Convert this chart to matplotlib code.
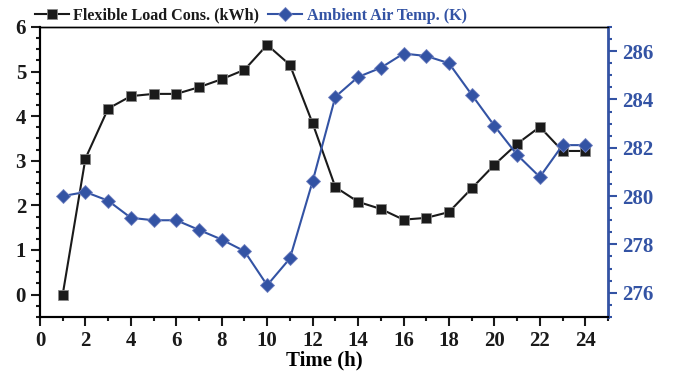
import numpy as np
import matplotlib
matplotlib.use("Agg")
import matplotlib.pyplot as plt
from matplotlib.ticker import MultipleLocator

plt.rcParams['font.family'] = ['Liberation Serif', 'DejaVu Serif']
plt.rcParams['font.weight'] = 'bold'

hours = list(range(1, 25))
load_kwh = [0.0, 3.05, 4.17, 4.45, 4.5, 4.5, 4.65, 4.83, 5.04, 5.6, 5.15, 3.84,
            2.41, 2.08, 1.92, 1.68, 1.72, 1.85, 2.38, 2.91, 3.38, 3.76, 3.22, 3.22]
temp_k = [280.0, 280.17, 279.81, 279.1, 279.0, 279.0, 278.6, 278.2, 277.72, 276.31, 277.42, 280.61,
          284.11, 284.93, 285.31, 285.9, 285.8, 285.5, 284.2, 282.91, 281.71, 280.79, 282.11, 282.11]

blue = '#3353a4'
black = '#1a1a1a'

fig = plt.figure(figsize=(6.73, 3.75), dpi=100)
ax = fig.add_axes([0.0594, 0.155, 0.844, 0.773])
ax2 = ax.twinx()

l1, = ax.plot(hours, load_kwh, color=black, lw=1.5, marker='s', ms=7.5,
              mec='#888888', mew=0.6, label='Flexible Load Cons. (kWh)', zorder=3)
l2, = ax2.plot(hours, temp_k, color=blue, lw=1.5, marker='D', ms=7,
               mec='#7080c0', mew=0.6, label='Ambient Air Temp. (K)', zorder=3)

ax.set_xlim(0, 25)
ax.set_ylim(-0.5, 6)
ax2.set_ylim(275, 287)

ax.xaxis.set_major_locator(MultipleLocator(2))
ax.xaxis.set_minor_locator(MultipleLocator(1))
ax.yaxis.set_major_locator(MultipleLocator(1))
ax.yaxis.set_minor_locator(MultipleLocator(0.25))
ax2.yaxis.set_major_locator(MultipleLocator(2))
ax2.yaxis.set_minor_locator(MultipleLocator(0.5))

ax.tick_params(axis='both', which='major', direction='out', length=6.5, width=1.5,
               labelsize=15, colors=black, pad=3.5)
ax.tick_params(axis='both', which='minor', direction='out', length=3, width=1.5, colors=black)
ax2.tick_params(axis='y', which='major', direction='out', length=6.5, width=1.5,
                labelsize=15, colors=blue, pad=3.5)
ax2.tick_params(axis='y', which='minor', direction='out', length=3, width=1.5, colors=blue)

for s in ['left', 'bottom']:
    ax.spines[s].set_linewidth(1.5)
    ax2.spines[s].set_linewidth(1.5)
ax.spines['top'].set_linewidth(1.0)
ax2.spines['top'].set_linewidth(1.0)
ax2.spines['right'].set_color(blue)
ax2.spines['right'].set_linewidth(2)
ax.spines['right'].set_visible(False)

ax.set_xlabel('Time (h)', fontsize=15, fontweight='bold', labelpad=0)

leg = fig.legend(handles=[l1, l2], loc='center left', bbox_to_anchor=(0.042, 0.958),
                 ncol=2, frameon=False, fontsize=11.6, handlelength=2.1,
                 handletextpad=0.3, columnspacing=0.55, borderaxespad=0)
for t, c in zip(leg.get_texts(), [black, blue]):
    t.set_color(c)

fig.savefig('out.png', dpi=100)
